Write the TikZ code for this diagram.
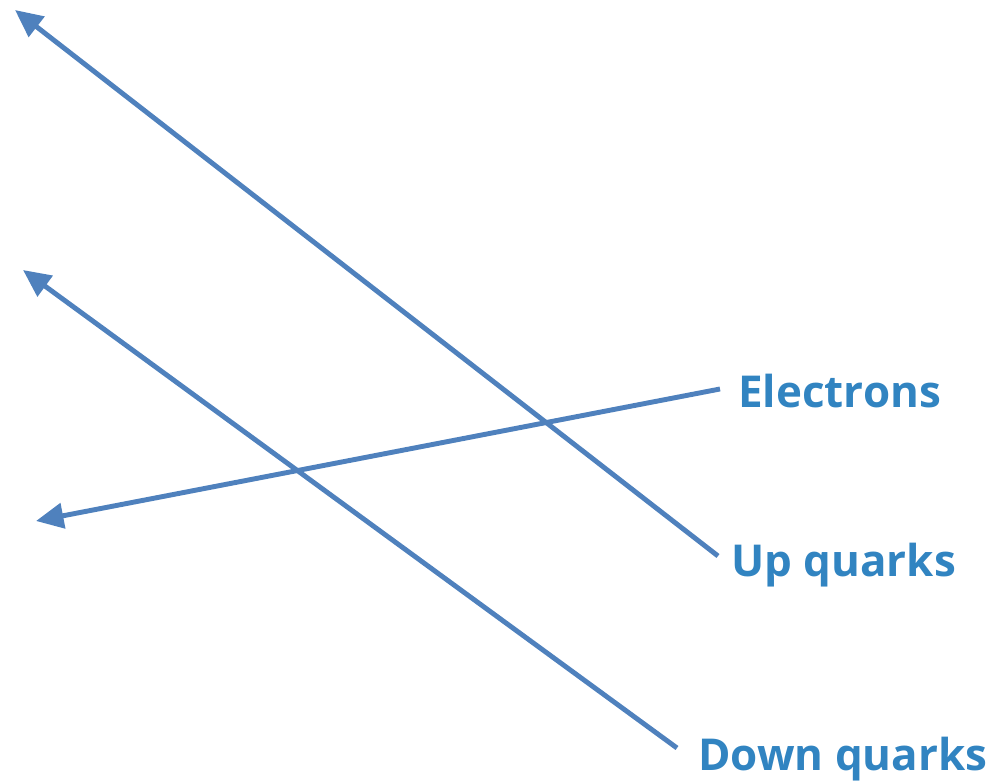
\documentclass[tikz,border=0pt]{standalone}
\usepackage{fontspec}
\newfontfamily\labelfont{Open Sans}
\usepackage{tikz}
\usetikzlibrary{arrows.meta}
\usepackage{xcolor}
\definecolor{lineBlue}{RGB}{79, 129, 189}
\definecolor{textBlue}{RGB}{49, 132, 193}

\begin{document}
\begin{tikzpicture}[
    x=0.02cm, y=-0.02cm,
    particle/.style={font=\labelfont\bfseries\fontsize{25}{30}\selectfont, text=textBlue, anchor=west, inner sep=0pt},
    track/.style={-{Triangle[length=0.55cm, width=0.5cm]}, line width=2.8pt, draw=lineBlue}
]
\useasboundingbox (0,0) rectangle (993,783);

% --- Labels -----------------------------------------------------------------
\node[particle] (electrons) at (738,391) {Electrons};
\node[particle] (upq) at (731,565) {Up quarks};
\node[particle] (downq) at (698,759) {Down quarks};

% --- Track ends ----------------------------------------------------------------
\coordinate (e-start) at (720,389);
\coordinate (e-tip) at (36,521);
\coordinate (u-start) at (718,556);
\coordinate (u-tip) at (15,10);
\coordinate (d-start) at (677,748);
\coordinate (d-tip) at (23,270);

% --- Tracks -------------------------------------------------------------------
\draw[track] (e-start) -- (e-tip);
\draw[track] (u-start) -- (u-tip);
\draw[track] (d-start) -- (d-tip);

\end{tikzpicture}
\end{document}
